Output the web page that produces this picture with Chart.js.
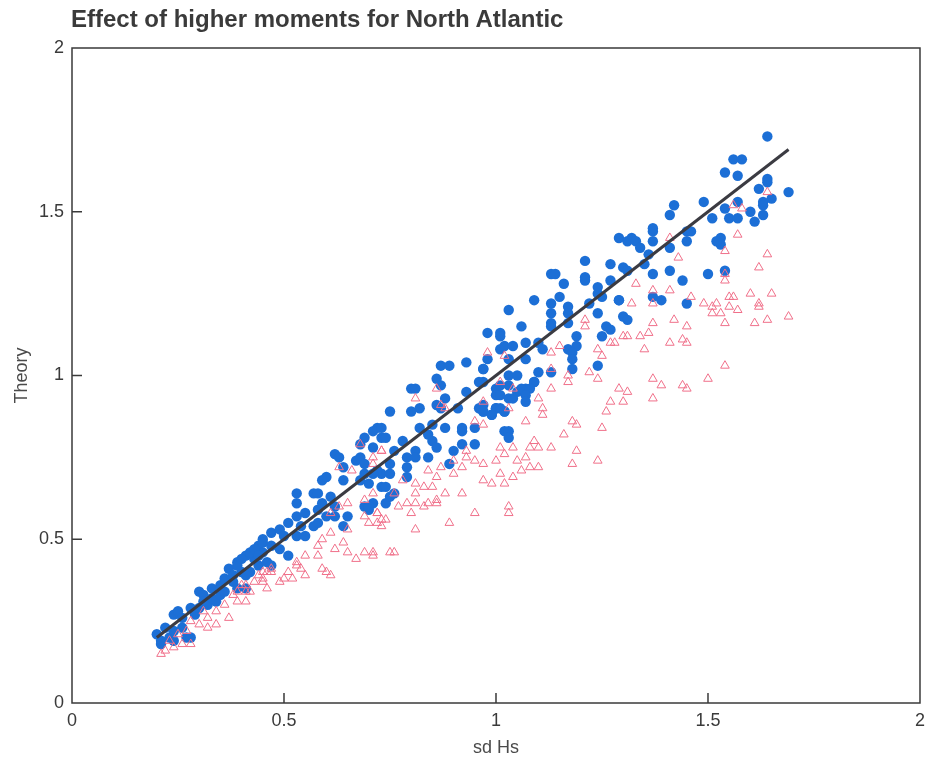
<!DOCTYPE html>
<html>
<head>
<meta charset="utf-8">
<script src="https://cdn.jsdelivr.net/npm/chart.js@4.4.1/dist/chart.umd.min.js"></script>
<style>
  body { margin: 0; background: #fff; }
  #wrap { position: relative; width: 932px; height: 766px; }
  #title {
    position: absolute; left: 71px; top: 5px;
    font: bold 24px "Liberation Sans", Arial, sans-serif; color: #3a3a3a;
  }
</style>
</head>
<body>
<div id="wrap">
  <canvas id="chart" width="932" height="766"></canvas>
  <div id="title">Effect of higher moments for North Atlantic</div>
</div>
<script>
// axis setup
const axisTicks = [0, 0.5, 1, 1.5, 2];
const xLabel = "sd Hs";
const yLabel = "Theory";

// reference line (sd Hs = Theory)
const fitLine = [[0.2, 0.2], [1.69, 1.69]];

// blue dots (sd Hs, Theory)
const bluePts = [
  [0.20,0.21],[0.21,0.19],[0.24,0.19],[0.21,0.18],[0.22,0.23],[0.23,0.20],[0.24,0.22],[0.24,0.27],[0.25,0.28],[0.26,0.26],
  [0.26,0.23],[0.27,0.20],[0.28,0.20],[0.28,0.29],[0.29,0.27],[0.30,0.29],[0.30,0.34],[0.31,0.33],[0.31,0.31],[0.32,0.30],
  [0.33,0.35],[0.33,0.32],[0.34,0.31],[0.35,0.36],[0.35,0.33],[0.36,0.34],[0.36,0.38],[0.37,0.41],[0.38,0.37],[0.39,0.43],
  [0.39,0.35],[0.40,0.40],[0.41,0.45],[0.41,0.35],[0.42,0.40],[0.43,0.44],[0.44,0.48],[0.44,0.42],[0.45,0.46],[0.46,0.43],
  [0.47,0.48],[0.38,0.39],[0.39,0.42],[0.40,0.44],[0.41,0.39],[0.42,0.46],[0.43,0.47],[0.44,0.45],[0.45,0.50],[0.45,0.49],
  [0.47,0.42],[0.47,0.52],[0.49,0.53],[0.49,0.47],[0.50,0.51],[0.51,0.55],[0.51,0.45],[0.53,0.51],[0.53,0.57],[0.53,0.61],
  [0.53,0.64],[0.54,0.54],[0.55,0.51],[0.55,0.58],[0.57,0.54],[0.57,0.64],[0.58,0.55],[0.58,0.59],[0.58,0.64],[0.59,0.61],
  [0.59,0.68],[0.60,0.57],[0.60,0.69],[0.61,0.63],[0.62,0.60],[0.62,0.57],[0.62,0.76],[0.63,0.75],[0.64,0.72],[0.64,0.68],
  [0.64,0.54],[0.65,0.57],[0.67,0.74],[0.68,0.75],[0.68,0.68],[0.68,0.79],[0.69,0.73],[0.69,0.70],[0.69,0.60],[0.69,0.81],
  [0.70,0.67],[0.70,0.59],[0.72,0.84],[0.73,0.70],[0.73,0.66],[0.73,0.81],[0.74,0.61],
  [0.87,1.03],[0.89,1.03],[0.93,1.04],[0.97,1.02],[0.96,0.98],[0.86,0.99],[0.87,0.97],[0.80,0.96],[0.81,0.96],[0.93,0.95],
  [0.88,0.93],[1.00,0.96],[1.03,0.97],[1.00,0.94],[1.05,0.95],[1.07,0.96],[1.09,0.98],[1.03,0.93],[0.86,0.91],[0.87,0.90],
  [0.82,0.90],[0.80,0.89],[0.75,0.89],[0.91,0.90],[0.96,0.90],[0.97,0.89],[1.00,0.90],[1.02,0.89],[0.99,0.88],[0.71,0.83],
  [0.73,0.84],[0.74,0.81],[0.82,0.84],[0.85,0.85],[0.88,0.84],[0.92,0.84],[0.92,0.83],[0.95,0.84],[1.02,0.83],[0.84,0.82],
  [0.85,0.80],[0.78,0.80],[0.86,0.78],[0.90,0.77],[0.95,0.79],[0.92,0.79],[0.71,0.78],[0.76,0.77],[0.81,0.77],[0.79,0.75],
  [0.81,0.75],[0.84,0.75],[0.89,0.73],[0.75,0.73],[0.79,0.72],[0.72,0.71],[0.71,0.70],[0.75,0.70],[0.79,0.69],[0.74,0.66],
  [0.75,0.63],[0.76,0.64],[0.71,0.61],[0.70,0.60],
  [1.21,1.35],[1.27,1.34],[1.30,1.33],[1.31,1.32],[1.35,1.34],[1.13,1.31],[1.14,1.31],[1.21,1.30],[1.21,1.29],[1.27,1.29],
  [1.16,1.28],[1.24,1.27],[1.24,1.25],[1.25,1.24],[1.09,1.23],[1.15,1.24],[1.29,1.23],[1.03,1.20],[1.17,1.21],[1.13,1.22],
  [1.22,1.22],[1.13,1.19],[1.17,1.19],[1.24,1.19],[1.30,1.18],[1.31,1.17],[1.13,1.16],[1.17,1.16],[1.13,1.15],[1.06,1.15],
  [1.26,1.15],[1.27,1.14],[0.98,1.13],[1.01,1.13],[1.01,1.12],[1.25,1.12],[1.19,1.12],[1.07,1.10],[1.10,1.10],[1.01,1.08],
  [1.02,1.09],[1.04,1.09],[1.11,1.08],[1.17,1.08],[1.19,1.09],[1.18,1.07],[0.98,1.05],[1.03,1.05],[1.07,1.05],[1.18,1.05],
  [1.24,1.03],[1.18,1.02],[0.97,1.02],[1.10,1.01],[1.13,1.01],[1.03,1.00],[1.05,1.00],[0.97,0.98],[1.01,0.97],[1.09,0.98],
  [1.06,0.96],[1.08,0.96],[1.01,0.94],[1.04,0.93],[1.07,0.94],[1.07,0.92],[0.97,0.91],[1.00,0.90],[0.97,0.89],[0.99,0.88],
  [1.01,0.90],[1.02,0.89],[1.03,0.83],[1.03,0.81],
  [1.64,1.73],[1.56,1.66],[1.58,1.66],[1.54,1.62],[1.57,1.61],[1.64,1.60],[1.64,1.59],[1.69,1.56],[1.62,1.57],[1.65,1.54],
  [1.63,1.53],[1.49,1.53],[1.42,1.52],[1.41,1.49],[1.54,1.51],[1.57,1.53],[1.60,1.50],[1.63,1.52],[1.51,1.48],[1.55,1.48],
  [1.57,1.48],[1.61,1.47],[1.37,1.44],[1.45,1.44],[1.53,1.42],[1.32,1.42],[1.53,1.40],[1.50,1.31],[1.54,1.32],[1.37,1.45],
  [1.37,1.41],[1.29,1.42],[1.31,1.41],[1.33,1.41],[1.34,1.39],[1.36,1.37],[1.41,1.39],[1.45,1.41],[1.46,1.44],[1.52,1.41],
  [1.63,1.49],[1.37,1.31],[1.41,1.32],[1.44,1.29],[1.29,1.23],[1.37,1.24],[1.39,1.23],[1.45,1.22]
];

// red triangles (sd Hs, Theory)
const redPts = [
  [0.21,0.15],[0.22,0.16],[0.24,0.17],[0.26,0.18],[0.28,0.18],[0.32,0.23],[0.34,0.24],[0.34,0.28],[0.37,0.26],[0.39,0.31],
  [0.41,0.31],[0.41,0.34],[0.43,0.37],[0.45,0.37],[0.46,0.40],[0.49,0.37],[0.50,0.38],[0.32,0.26],[0.28,0.25],[0.27,0.22],
  [0.23,0.19],[0.25,0.21],[0.30,0.24],[0.31,0.28],[0.36,0.30],[0.38,0.33],[0.40,0.36],[0.44,0.39],[0.47,0.41],
  [0.68,0.79],[0.73,0.77],[0.63,0.72],[0.66,0.71],[0.71,0.73],[0.71,0.64],[0.69,0.62],[0.65,0.61],[0.63,0.60],[0.61,0.58],
  [0.72,0.58],[0.69,0.57],[0.70,0.55],[0.73,0.56],[0.73,0.54],[0.65,0.53],[0.61,0.52],[0.59,0.50],[0.64,0.49],[0.55,0.45],
  [0.58,0.48],[0.58,0.45],[0.62,0.47],[0.65,0.46],[0.67,0.44],[0.69,0.46],[0.71,0.45],[0.53,0.43],[0.53,0.42],[0.54,0.41],
  [0.51,0.40],[0.59,0.41],[0.60,0.40],[0.55,0.39],[0.52,0.38],[0.45,0.40],[0.47,0.40],[0.45,0.38],[0.41,0.36],[0.46,0.35],
  [0.42,0.34],[0.39,0.34],[0.61,0.39],
  [0.86,0.96],[0.81,0.93],[0.87,0.91],[0.88,0.90],[0.97,0.92],[1.03,0.90],[0.95,0.86],[0.97,0.85],[0.93,0.77],[0.93,0.75],
  [0.95,0.74],[0.90,0.74],[0.92,0.72],[0.71,0.75],[0.73,0.77],[0.84,0.71],[0.86,0.69],[0.87,0.72],[0.90,0.70],[0.78,0.68],
  [0.81,0.67],[0.83,0.66],[0.85,0.66],[0.88,0.64],[0.92,0.64],[0.76,0.64],[0.81,0.64],[0.79,0.61],[0.81,0.61],[0.84,0.61],
  [0.86,0.61],[0.77,0.60],[0.80,0.58],[0.83,0.60],[0.86,0.62],[0.72,0.58],[0.74,0.56],[0.72,0.55],[1.03,0.60],[1.03,0.58],
  [0.95,0.58],[0.89,0.55],[0.81,0.53],[0.75,0.46],[0.76,0.46],[0.71,0.46],
  [1.21,1.17],[1.21,1.15],[1.27,1.10],[1.28,1.10],[1.15,1.09],[1.13,1.07],[1.24,1.08],[1.25,1.06],[1.02,1.06],[0.98,1.07],
  [1.13,1.02],[1.22,1.01],[1.17,1.00],[1.17,0.98],[1.24,0.99],[1.01,0.98],[1.04,0.96],[1.13,0.96],[1.10,0.93],[1.27,0.92],
  [1.11,0.90],[1.26,0.89],[1.11,0.88],[1.07,0.86],[1.18,0.86],[1.19,0.85],[1.25,0.84],[1.16,0.82],[1.09,0.80],[1.01,0.78],
  [1.04,0.78],[1.08,0.78],[1.10,0.78],[1.13,0.78],[1.02,0.76],[1.19,0.77],[1.05,0.74],[1.07,0.75],[1.00,0.74],[0.97,0.73],
  [1.06,0.71],[1.08,0.72],[1.10,0.72],[1.18,0.73],[1.24,0.74],[1.01,0.70],[1.04,0.69],[0.97,0.68],[0.99,0.67],[1.02,0.67],
  [1.54,1.38],[1.43,1.36],[1.64,1.37],[1.62,1.33],[1.33,1.28],[1.37,1.26],[1.41,1.26],[1.46,1.24],[1.49,1.22],[1.52,1.22],
  [1.55,1.24],[1.60,1.25],[1.65,1.25],[1.32,1.22],[1.37,1.22],[1.51,1.21],[1.51,1.19],[1.53,1.19],[1.55,1.21],[1.57,1.20],
  [1.62,1.22],[1.62,1.21],[1.54,1.16],[1.61,1.16],[1.64,1.17],[1.69,1.18],[1.37,1.16],[1.42,1.17],[1.45,1.15],[1.36,1.13],
  [1.34,1.12],[1.30,1.12],[1.31,1.12],[1.44,1.11],[1.45,1.10],[1.41,1.10],[1.35,1.08],[1.54,1.03],[1.50,0.99],[1.37,0.99],
  [1.39,0.97],[1.44,0.97],[1.45,0.96],[1.29,0.96],[1.31,0.95],[1.37,0.93],[1.30,0.92],[1.57,1.43],[1.54,1.31],[1.54,1.29],
  [1.56,1.24],[1.64,1.56],[1.56,1.52],[1.58,1.51],[1.41,1.42]
];

const toXY = arr => arr.map(p => ({ x: p[0], y: p[1] }));
const fontFam = '"Liberation Sans", Arial, sans-serif';

// box frame + inward ticks
const framePlugin = {
  id: "frame",
  afterDraw(chart) {
    const { ctx, chartArea: a, scales } = chart;
    ctx.save();
    ctx.strokeStyle = "#3a3a3a";
    ctx.lineWidth = 1.5;
    ctx.strokeRect(a.left, a.top, a.right - a.left, a.bottom - a.top);
    ctx.beginPath();
    axisTicks.slice(1, -1).forEach(v => {
      const px = scales.x.getPixelForValue(v);
      ctx.moveTo(px, a.bottom);
      ctx.lineTo(px, a.bottom - 10);
      const py = scales.y.getPixelForValue(v);
      ctx.moveTo(a.left, py);
      ctx.lineTo(a.left + 10, py);
    });
    ctx.stroke();
    ctx.restore();
  }
};

function axis(label, isY) {
  return {
    type: "linear",
    min: axisTicks[0],
    max: axisTicks[axisTicks.length - 1],
    afterBuildTicks: s => { s.ticks = axisTicks.map(v => ({ value: v })); },
    afterFit: s => { if (isY) s.width = 72; else s.height = 63; },
    grid: { display: false, drawTicks: false },
    border: { display: false },
    ticks: {
      padding: isY ? 8 : 7,
      color: "#3a3a3a",
      font: { family: fontFam, size: 18 },
      callback: v => String(v)
    },
    title: {
      display: true,
      text: label,
      color: "#4a4a4a",
      font: { family: fontFam, size: 18 },
      padding: isY ? { top: 11, bottom: 0 } : { top: 0, bottom: 7 }
    }
  };
}

new Chart(document.getElementById("chart"), {
  type: "scatter",
  data: {
    datasets: [
      {
        type: "line",
        data: toXY(fitLine),
        borderColor: "#3b3b42",
        borderWidth: 3,
        pointRadius: 0,
        order: 0
      },
      {
        data: toXY(redPts),
        pointStyle: "triangle",
        pointRadius: 5,
        backgroundColor: "rgba(0,0,0,0)",
        borderColor: "#f0708a",
        borderWidth: 1,
        order: 1
      },
      {
        data: toXY(bluePts),
        pointStyle: "circle",
        pointRadius: 5.2,
        backgroundColor: "#1c6fd6",
        borderWidth: 0,
        order: 2
      }
    ]
  },
  options: {
    responsive: false,
    animation: false,
    events: [],
    layout: { padding: { top: 48, right: 10, left: 0, bottom: 0 } },
    plugins: { legend: { display: false }, tooltip: { enabled: false } },
    scales: { x: axis(xLabel, false), y: axis(yLabel, true) }
  },
  plugins: [framePlugin]
});
</script>
</body>
</html>
